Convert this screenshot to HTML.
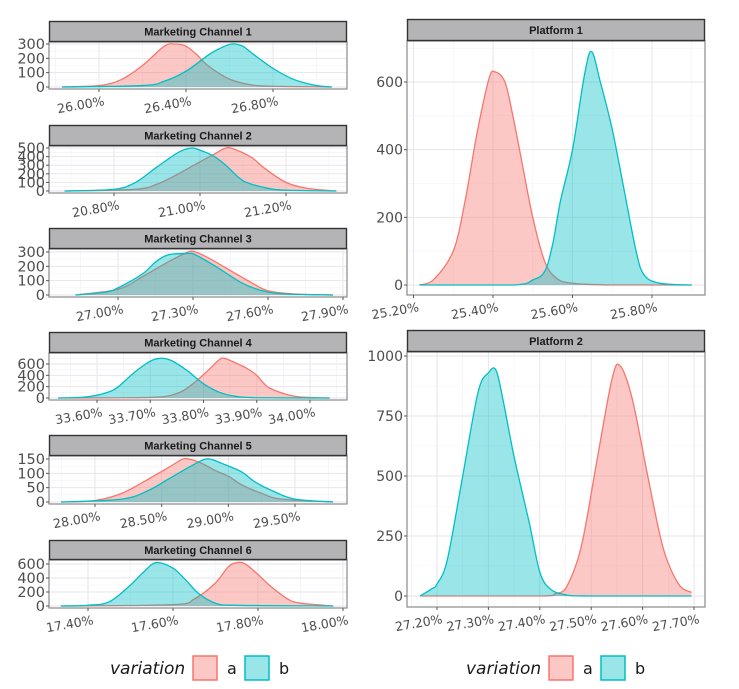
<!DOCTYPE html>
<html><head><meta charset="utf-8">
<style>
html,body{margin:0;padding:0;background:#fff;}
svg{display:block;font-family:"Liberation Sans","DejaVu Sans",sans-serif;}
.tk{font-family:"DejaVu Sans","Liberation Sans",sans-serif;}
</style></head>
<body>
<svg id="chart" width="739" height="689" viewBox="0 0 739 689"></svg>
<script>
// ---- data ----
const ch1Ticks = [26.0, 26.4, 26.8];
const ch1YTicks = [0, 100, 200, 300];
const ch1A = [[25.83,0],[26.0,10],[26.1,50],[26.2,150],[26.3,285],[26.35,300],[26.4,285],[26.45,225],[26.5,150],[26.6,55],[26.7,15],[26.8,5],[27.07,0]];
const ch1B = [[25.83,0],[26.2,10],[26.3,40],[26.4,110],[26.5,220],[26.55,265],[26.61,300],[26.66,285],[26.7,240],[26.8,130],[26.9,50],[27.0,10],[27.07,0]];

const ch2Ticks = [20.8, 21.0, 21.2];
const ch2YTicks = [0, 100, 200, 300, 400, 500];
const ch2A = [[20.685,0],[20.85,20],[20.9,80],[20.95,200],[21.0,340],[21.03,420],[21.06,500],[21.08,485],[21.12,390],[21.15,265],[21.2,100],[21.25,30],[21.317,0]];
const ch2B = [[20.685,0],[20.8,20],[20.85,100],[20.9,280],[20.95,450],[20.98,500],[21.0,475],[21.03,410],[21.06,300],[21.1,120],[21.15,40],[21.2,10],[21.317,0]];

const ch3Ticks = [27.0, 27.3, 27.6, 27.9];
const ch3YTicks = [0, 100, 200, 300];
const ch3A = [[26.83,0],[27.0,40],[27.1,130],[27.2,230],[27.28,300],[27.31,300],[27.36,260],[27.45,170],[27.55,70],[27.6,30],[27.7,8],[27.86,0]];
const ch3B = [[26.83,0],[26.95,20],[27.0,50],[27.1,150],[27.15,230],[27.2,280],[27.28,290],[27.31,280],[27.4,190],[27.5,80],[27.6,20],[27.7,5],[27.86,0]];

const ch4Ticks = [33.6, 33.7, 33.8, 33.9, 34.0];
const ch4YTicks = [0, 200, 400, 600];
const ch4A = [[33.527,0],[33.7,10],[33.75,80],[33.78,250],[33.81,500],[33.83,680],[33.84,700],[33.86,620],[33.88,530],[33.9,400],[33.92,200],[33.95,80],[33.98,20],[34.037,0]];
const ch4B = [[33.527,0],[33.58,20],[33.62,100],[33.64,200],[33.67,450],[33.7,650],[33.72,700],[33.74,660],[33.77,480],[33.8,250],[33.83,100],[33.86,30],[33.9,5],[34.037,0]];

const ch5Ticks = [28.0, 28.5, 29.0, 29.5];
const ch5YTicks = [0, 50, 100, 150];
const ch5A = [[27.745,0],[28.0,5],[28.2,30],[28.4,80],[28.55,120],[28.65,148],[28.7,150],[28.8,135],[28.9,110],[29.0,90],[29.1,60],[29.25,30],[29.4,10],[29.785,0]];
const ch5B = [[27.745,0],[28.2,10],[28.4,40],[28.55,80],[28.7,120],[28.8,145],[28.86,150],[28.95,135],[29.1,105],[29.2,70],[29.35,35],[29.5,10],[29.785,0]];

const ch6Ticks = [17.4, 17.6, 17.8, 18.0];
const ch6YTicks = [0, 200, 400, 600];
const ch6A = [[17.336,0],[17.6,20],[17.65,100],[17.7,330],[17.73,560],[17.75,620],[17.77,600],[17.8,450],[17.83,280],[17.87,100],[17.9,40],[17.977,0]];
const ch6B = [[17.336,0],[17.4,10],[17.45,60],[17.5,300],[17.53,480],[17.56,620],[17.6,540],[17.63,370],[17.66,180],[17.7,40],[17.75,10],[17.977,0]];

const p1Ticks = [25.2, 25.4, 25.6, 25.8];
const p1YTicks = [0, 200, 400, 600];
const p1A = [[25.215,0],[25.25,15],[25.3,100],[25.33,250],[25.36,450],[25.39,610],[25.405,630],[25.43,600],[25.45,500],[25.47,380],[25.5,200],[25.53,70],[25.56,20],[25.6,5],[25.7,0],[25.9,0]];
const p1B = [[25.215,0],[25.45,0],[25.5,15],[25.53,40],[25.55,120],[25.57,250],[25.6,400],[25.63,620],[25.648,690],[25.67,600],[25.7,460],[25.73,280],[25.76,100],[25.78,30],[25.82,5],[25.9,0]];

const p2Ticks = [27.2, 27.3, 27.4, 27.5, 27.6, 27.7];
const p2YTicks = [0, 250, 500, 750, 1000];
const p2A = [[27.167,0],[27.4,0],[27.43,10],[27.45,30],[27.48,200],[27.51,550],[27.54,900],[27.556,960],[27.58,820],[27.61,500],[27.64,200],[27.67,50],[27.695,15]];
const p2B = [[27.167,0],[27.19,30],[27.2,50],[27.22,150],[27.25,500],[27.28,850],[27.3,930],[27.315,940],[27.33,800],[27.35,580],[27.38,300],[27.4,100],[27.42,30],[27.45,5],[27.5,0],[27.695,0]];

// ---- layout (pixel geometry, not data) ----
const panels = [
 {name:'marketing-channel-1',title:'Marketing Channel 1',ticks:ch1Ticks,yTicks:ch1YTicks,a:ch1A,b:ch1B,L:49,R:347,sT:21,sB:42,pB:89,y0:87,yt:44,xa:{v:26.0,p:99},xb:{v:26.8,p:273},dec:2,yfs:14.5},
 {name:'marketing-channel-2',title:'Marketing Channel 2',ticks:ch2Ticks,yTicks:ch2YTicks,a:ch2A,b:ch2B,L:49,R:347,sT:125,sB:146,pB:193,y0:191,yt:148,xa:{v:20.8,p:114},xb:{v:21.2,p:286},dec:2,yfs:14.5},
 {name:'marketing-channel-3',title:'Marketing Channel 3',ticks:ch3Ticks,yTicks:ch3YTicks,a:ch3A,b:ch3B,L:49,R:347,sT:228,sB:249,pB:297,y0:295,yt:252,xa:{v:27.0,p:118},xb:{v:27.9,p:343},dec:2,yfs:14.5},
 {name:'marketing-channel-4',title:'Marketing Channel 4',ticks:ch4Ticks,yTicks:ch4YTicks,a:ch4A,b:ch4B,L:49,R:347,sT:332,sB:353,pB:400,y0:398,yt:364,xa:{v:33.6,p:97},xb:{v:34.0,p:310},dec:2,yfs:14.5},
 {name:'marketing-channel-5',title:'Marketing Channel 5',ticks:ch5Ticks,yTicks:ch5YTicks,a:ch5A,b:ch5B,L:49,R:347,sT:435,sB:456,pB:504,y0:502,yt:459,xa:{v:28.0,p:95},xb:{v:29.5,p:295},dec:2,yfs:14.5},
 {name:'marketing-channel-6',title:'Marketing Channel 6',ticks:ch6Ticks,yTicks:ch6YTicks,a:ch6A,b:ch6B,L:49,R:347,sT:540,sB:560,pB:608,y0:606,yt:564,xa:{v:17.4,p:88},xb:{v:18.0,p:343},dec:2,yfs:14.5},
 {name:'platform-1',title:'Platform 1',ticks:p1Ticks,yTicks:p1YTicks,a:p1A,b:p1B,L:407,R:705,sT:19,sB:41,pB:295,y0:285,yt:82,xa:{v:25.4,p:493},xb:{v:25.8,p:652},dec:2,yfs:14},
 {name:'platform-2',title:'Platform 2',ticks:p2Ticks,yTicks:p2YTicks,a:p2A,b:p2B,L:407,R:705,sT:330,sB:352,pB:607,y0:596,yt:356,xa:{v:27.2,p:437},xb:{v:27.7,p:694},dec:2,yfs:14}
];

const NS='http://www.w3.org/2000/svg';
const svg=document.getElementById('chart');
function mk(tag,attrs,parent){const e=document.createElementNS(NS,tag);for(const k in attrs)e.setAttribute(k,attrs[k]);(parent||svg).appendChild(e);return e;}
function smoothPath(pts){
  let d='M'+pts[0][0].toFixed(2)+','+pts[0][1].toFixed(2);
  for(let i=0;i<pts.length-1;i++){
    const p0=pts[i-1]||pts[i],p1=pts[i],p2=pts[i+1],p3=pts[i+2]||p2;
    let c1x=p1[0]+(p2[0]-p0[0])/6,c1y=p1[1]+(p2[1]-p0[1])/6;
    let c2x=p2[0]-(p3[0]-p1[0])/6,c2y=p2[1]-(p3[1]-p1[1])/6;
    const base=Math.max(p1[1],p2[1]);
    c1y=Math.min(c1y,base);c2y=Math.min(c2y,base);
    d+=' C'+c1x.toFixed(2)+','+c1y.toFixed(2)+' '+c2x.toFixed(2)+','+c2y.toFixed(2)+' '+p2[0].toFixed(2)+','+p2[1].toFixed(2);
  }
  return d;
}

panels.forEach(p=>{
  const g=mk('g',{});
  
  
  const xs=v=>p.xa.p+(v-p.xa.v)*(p.xb.p-p.xa.p)/(p.xb.v-p.xa.v);
  const topV=p.yTicks[p.yTicks.length-1];
  const ys=v=>p.y0+(v/topV)*(p.yt-p.y0);
  mk('rect',{x:p.L,y:p.sB,width:p.R-p.L,height:p.pB-p.sB,fill:'#fff'},g);
  const gg=mk('g',{},g);
  
  
  const stepX=p.ticks[1]-p.ticks[0];
  for(let i=-1;i<p.ticks.length+1;i++){
    const v=p.ticks[0]+i*stepX, vm=v+stepX/2;
    [[v,'#e6e6ee',1.0],[vm,'#f1f1f5',0.6]].forEach(([vv,c,w])=>{
      const X=xs(vv); if(X>p.L+1&&X<p.R-1) mk('line',{x1:X,x2:X,y1:p.sB,y2:p.pB,stroke:c,'stroke-width':w},gg);
    });
  }
  const stepY=p.yTicks[1]-p.yTicks[0];
  for(let i=0;i<p.yTicks.length+1;i++){
    const v=p.yTicks[0]+i*stepY, vm=v+stepY/2;
    [[v,'#e6e6ee',1.0],[vm,'#f1f1f5',0.6]].forEach(([vv,c,w])=>{
      const Y=ys(vv); if(Y>p.sB+1&&Y<p.pB-1) mk('line',{x1:p.L,x2:p.R,y1:Y,y2:Y,stroke:c,'stroke-width':w},gg);
    });
  }
  [['a',p.a,'#F8766D'],['b',p.b,'#00BFC4']].forEach(([k,data,col])=>{
    const pts=data.map(d=>[xs(d[0]),ys(d[1])]);
    const line=smoothPath(pts);
    const area=line+' L'+pts[pts.length-1][0].toFixed(2)+','+ys(0).toFixed(2)+' L'+pts[0][0].toFixed(2)+','+ys(0).toFixed(2)+' Z';
    const fa=mk('path',{d:area,fill:col,'fill-opacity':0.4,stroke:'none'},g);
    
    
    const ln=mk('path',{d:line,fill:'none',stroke:col,'stroke-width':1.3},g);
    
    
  });
  mk('rect',{x:p.L,y:p.sB,width:p.R-p.L,height:p.pB-p.sB,fill:'none',stroke:'#8a8a8a','stroke-width':1.2},g);
  const st=mk('rect',{x:p.L+0.5,y:p.sT+0.5,width:p.R-p.L-1,height:p.sB-p.sT-1,fill:'#b4b3b6',stroke:'#333','stroke-width':1.4},g);
  
  
  const tt=mk('text',{x:(p.L+p.R)/2,y:(p.sT+p.sB)/2+4,'text-anchor':'middle','font-size':11,'font-weight':'bold',fill:'#1a1a1a'},g);
  tt.textContent=p.title;
  
  
  p.yTicks.forEach(v=>{
    const Y=ys(v);
    mk('line',{x1:p.L-3,x2:p.L,y1:Y,y2:Y,stroke:'#555','stroke-width':1},g);
    const t=mk('text',{class:'tk',x:p.L-4,y:Y+5,'text-anchor':'end','font-size':p.yfs,fill:'#4d4d4d'},g);
    t.textContent=v;
    
    
  });
  p.ticks.forEach(v=>{
    const X=xs(v);
    mk('line',{x1:X,x2:X,y1:p.pB,y2:p.pB+3,stroke:'#555','stroke-width':1},g);
    const t=mk('text',{class:'tk',x:0,y:0,'text-anchor':'end','font-size':12.5,fill:'#4d4d4d',transform:'translate('+(X+6)+','+(p.pB+16)+') rotate(-10)'},g);
    t.textContent=v.toFixed(p.dec)+'%';
    
    
  });
});

[[110,'left'],[466,'right']].forEach(([x0,side])=>{
  const g=mk('g',{});
  
  
  const t=mk('text',{class:'tk',x:x0,y:674,'font-size':17,'font-style':'italic',fill:'#1a1a1a'},g);
  t.textContent='variation';
  [['a','#F8766D',x0+83],['b','#00BFC4',x0+135]].forEach(([k,c,bx])=>{
    const r=mk('rect',{x:bx,y:656,width:24,height:24,fill:c,'fill-opacity':0.4,stroke:c,'stroke-width':1.5},g);
    
    
    const lt=mk('text',{class:'tk',x:bx+34,y:674,'font-size':16,fill:'#1a1a1a'},g);
    lt.textContent=k;
    
    
  });
});
</script>
</body></html>
